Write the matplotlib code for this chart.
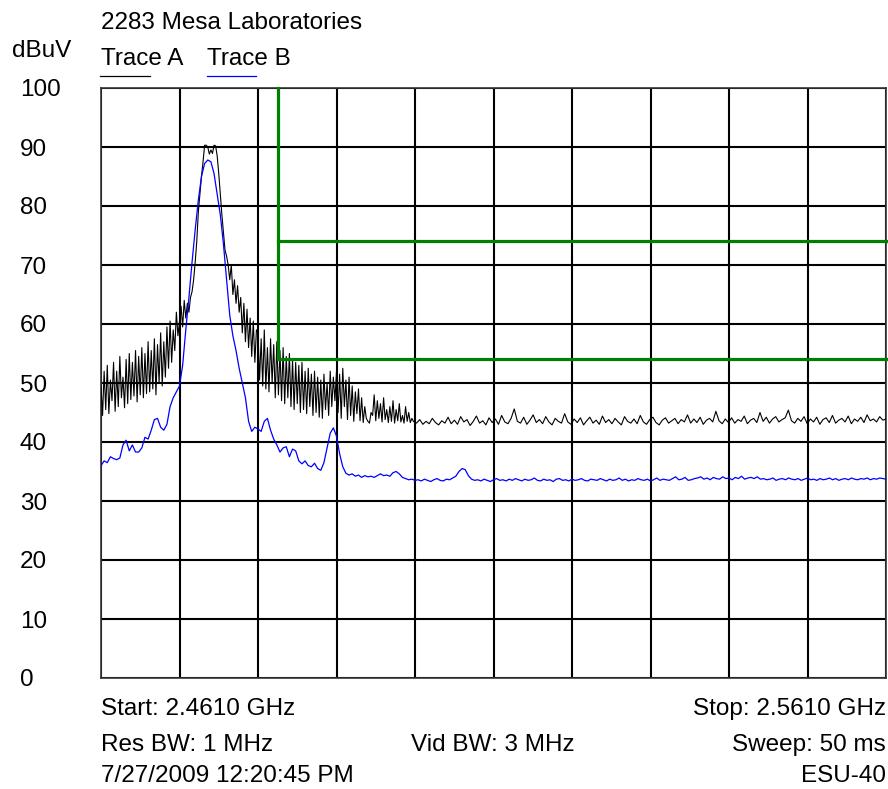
import numpy as np
import matplotlib
matplotlib.use('Agg')
import matplotlib.pyplot as plt
import matplotlib.transforms as mtransforms

plt.rcParams['font.family'] = ['Liberation Sans', 'DejaVu Sans']

start_ghz = 2.461
stop_ghz = 2.561

# Trace A (black), dBuV. Busy part read at 0.2 MHz steps, flat floor at ~0.4 MHz
trace_a_busy_start = 2.461
trace_a_busy_stop = 2.5008
trace_a_busy = [
    # 2.461 - 2.471
    49.5, 44.5, 52.0, 45.5, 53.0, 44.8, 50.5, 47.0, 53.5, 45.2,
    52.0, 46.0, 54.5, 47.5, 51.0, 45.8, 54.0, 46.5, 55.0, 47.2,
    53.5, 47.8, 55.5, 46.8, 54.5, 48.0, 56.0, 47.5, 55.0, 48.2,
    57.0, 48.5, 55.5, 49.0, 57.5, 48.0, 56.5, 50.0, 58.5, 49.5,
    57.0, 51.0, 59.5, 52.5, 60.5, 53.5, 59.0, 55.5, 62.0, 58.0,
    # 2.471 - 2.481 (carrier)
    60.5, 63.0, 59.5, 64.0, 61.0, 63.5, 62.0, 64.5, 65.5, 67.5,
    70.5, 74.0, 79.0, 82.0, 85.0, 87.5, 90.3, 90.3, 90.0, 88.8,
    89.5, 88.9, 90.3, 90.2, 88.5, 85.5, 82.0, 78.5, 75.5, 72.5,
    71.5, 70.0, 67.5, 70.0, 65.0, 67.5, 63.5, 66.5, 62.0, 64.5,
    58.5, 63.5, 57.0, 62.5, 56.0, 61.0, 54.5, 60.5, 53.5, 59.0,
    # 2.481 - 2.491
    58.5, 50.5, 57.5, 49.5, 59.0, 49.0, 56.0, 48.5, 57.5, 50.0,
    56.5, 47.5, 57.0, 48.0, 55.5, 47.0, 56.0, 46.5, 54.5, 47.5,
    55.0, 46.0, 54.0, 45.5, 53.5, 46.5, 53.0, 45.0, 53.5, 45.5,
    52.0, 44.8, 52.5, 46.0, 51.5, 44.5, 52.0, 45.0, 51.0, 44.2,
    50.5, 44.0, 51.5, 45.5, 50.0, 44.5, 52.0, 46.0, 51.0, 47.0,
    # 2.491 - 2.501
    52.0, 45.0, 51.5, 44.0, 52.5, 46.0, 50.5, 43.8, 51.0, 44.5,
    49.5, 43.5, 48.5, 44.8, 49.0, 43.6, 47.5, 43.3, 46.0, 44.0,
    43.5, 43.2, 45.0, 44.5, 48.0, 43.6, 47.0, 44.0, 46.5, 43.4,
    47.5, 43.8, 45.5, 43.3, 46.0, 43.5, 47.0, 43.2, 45.5, 43.6,
    46.5, 43.4, 44.5, 43.2, 46.0, 43.5, 45.0, 43.3, 44.0, 43.5,
]
trace_a_floor_start = 2.5012
trace_a_floor = [
    43.2, 43.8, 43.0, 43.5, 43.1, 44.0, 43.3, 42.9, 43.6, 43.2,
    44.2, 43.1, 43.7, 43.0, 44.3, 43.4, 43.8, 42.8, 43.5, 44.4,
    43.2, 43.6, 42.9, 44.1, 43.3, 43.9, 43.0, 44.5, 43.4, 43.1,
    44.0, 45.6, 43.5, 43.2, 44.2, 43.0, 43.7, 44.6, 43.3, 43.8,
    43.1, 44.3, 43.4, 42.9, 44.0, 43.5, 43.2, 44.8, 43.4, 43.0,
    43.9, 43.3, 44.1, 42.9, 43.6, 44.2, 43.2, 43.7, 43.0, 44.4,
    43.3, 43.8, 43.1, 44.0, 43.4, 42.9, 44.3, 43.5, 43.2, 43.9,
    43.1, 44.5, 43.4, 43.0, 43.8, 44.2, 43.3, 42.9, 43.7, 44.1,
    43.2, 43.6, 44.0, 43.1, 43.8, 43.4, 44.6, 43.2, 43.9, 43.3,
    44.2, 43.0, 43.7, 44.0, 43.4, 45.2, 43.6, 43.1, 43.9, 43.3,
    44.1, 43.2, 43.8, 43.5, 44.4, 43.1, 43.7, 44.0, 43.3, 45.0,
    43.5, 44.2, 43.2, 43.9, 44.3, 43.4, 43.8, 44.1, 45.4, 43.6,
    43.2, 44.0, 43.5, 44.3, 43.1, 43.9, 43.4, 44.2, 43.0, 43.8,
    44.1, 43.3, 44.5, 43.2, 43.7, 44.0, 43.4, 44.4, 43.1, 43.9,
    43.5, 44.2, 43.3, 44.6, 43.6, 43.9, 43.4, 44.3, 43.7, 43.9,
]

# Trace B (blue), dBuV, 0.4 MHz steps across the sweep
trace_b = [
    36.0, 36.8, 36.5, 37.5, 37.2, 37.0, 37.3, 39.5, 40.3, 38.5,
    39.5, 38.3, 38.3, 39.0, 40.8, 40.5, 42.0, 43.8, 44.0, 42.5,
    42.0, 43.0, 46.0, 47.5, 48.5,
    49.5, 53.0, 59.0, 64.5, 70.5, 76.0, 81.0, 85.0, 87.2, 87.8,
    87.5, 85.5, 82.0, 78.5, 73.5, 67.5, 61.5, 58.0, 55.5, 52.5,
    50.0, 47.5, 43.5, 41.8, 42.5, 42.2,
    41.8, 43.5, 44.0, 42.0, 40.5, 39.5, 38.3, 39.0, 39.2, 37.5,
    38.8, 38.5, 36.8, 36.3, 36.8, 36.0, 35.8, 36.4, 35.5, 35.2,
    36.5, 39.0, 41.5, 42.4, 41.0,
    38.0, 35.8, 34.7, 34.4, 34.6, 34.2, 34.4, 34.0, 34.3, 34.1,
    34.2, 34.0, 34.3, 34.6, 34.3, 34.4, 34.2, 34.8, 35.0, 34.6,
    34.0, 33.8, 33.6, 33.7, 33.5,
    33.6, 33.4, 33.7, 33.5, 33.3, 33.6, 33.8, 33.5, 33.4, 33.7,
    33.6, 33.9, 34.2, 35.0, 35.5, 35.3, 34.3, 33.7, 33.5, 33.6,
    33.4, 33.7, 33.5, 33.3, 33.6, 33.8, 33.5, 33.6, 33.4, 33.7,
    33.5, 33.8, 33.6, 33.4, 33.7, 33.5, 33.6, 33.9, 33.5, 33.4,
    33.7, 33.5, 33.6, 33.3, 33.7, 33.8, 33.5, 33.6, 33.4, 33.7,
    33.5, 33.6, 33.8, 33.5, 33.4, 33.7, 33.6, 33.5, 33.8, 33.6,
    33.4, 33.7, 33.5, 33.6, 33.9, 33.5, 33.7, 33.4, 33.6, 33.5,
    33.8, 33.6, 33.5, 33.7, 33.4, 33.6, 33.9, 33.5, 33.7, 33.6,
    33.5, 33.8, 34.1, 33.6, 33.7, 34.0, 33.5, 33.6, 33.8, 33.9,
    34.1, 33.7, 33.9, 33.6, 34.0, 33.8, 33.7, 34.1, 33.8, 33.9,
    33.6, 34.0, 33.8, 34.2, 33.7, 33.9, 34.0, 33.8, 34.1, 33.7,
    33.8, 33.6, 33.7, 33.9, 33.5, 33.7, 33.8, 33.6, 33.9, 33.7,
    33.6, 33.8, 33.5, 33.7, 33.9, 33.6, 33.7, 33.5, 33.8, 33.6,
    33.7, 33.9, 33.6, 33.8, 33.5, 33.7, 33.8, 33.6, 33.9, 33.7,
    33.6, 33.8, 33.7, 33.9, 33.6, 33.8, 33.7, 33.9, 33.8, 33.7,
]

# limit mask (band edge + two limit levels)
limit_edge_ghz = 2.4835
limit_levels = [74, 54]

y_ticks = list(range(0, 101, 10))

footer_left = ['Start: 2.4610 GHz', 'Res BW: 1 MHz', '7/27/2009 12:20:45 PM']
footer_mid = ['', 'Vid BW: 3 MHz', '']
footer_right = ['Stop: 2.5610 GHz', 'Sweep: 50 ms', 'ESU-40']

W, H = 888, 789
fig = plt.figure(figsize=(W / 100, H / 100), dpi=100)
x0, x1, y0, y1 = 101, 886, 88, 678
ax = fig.add_axes([x0 / W, 1 - y1 / H, (x1 - x0) / W, (y1 - y0) / H])

freq_a = np.concatenate([
    np.linspace(trace_a_busy_start, trace_a_busy_stop, len(trace_a_busy)),
    np.linspace(trace_a_floor_start, stop_ghz, len(trace_a_floor)),
])
vals_a = trace_a_busy + trace_a_floor
freq_b = np.linspace(start_ghz, stop_ghz, len(trace_b))

ax.set_xlim(start_ghz, stop_ghz)
ax.set_ylim(0, 100)
ax.set_xticks(np.linspace(start_ghz, stop_ghz, 11))
ax.set_yticks(y_ticks)
ax.grid(True, color='black', linewidth=1.5)
ax.set_axisbelow(True)
ax.tick_params(length=0, labelleft=False, labelbottom=False)
for s in ax.spines.values():
    s.set_linewidth(1.2)
    s.set_color('#333333')

ax.plot(freq_a, vals_a, color='black', linewidth=0.8, zorder=3)
ax.plot(freq_b, trace_b, color='#0000ff', linewidth=0.9, zorder=3)

green = '#008000'
ax.plot([limit_edge_ghz, limit_edge_ghz], [min(limit_levels), 100], color=green, linewidth=2.3, zorder=4, clip_on=False)
for lvl in limit_levels:
    ax.plot([limit_edge_ghz, stop_ghz], [lvl, lvl], color=green, linewidth=2.3, zorder=4, clip_on=False)

fs = 17.5
# tick labels sit a couple of pixels low in the original
tick_shift = mtransforms.ScaledTranslation(0, -2.5 / 100, fig.dpi_scale_trans)
trans = mtransforms.blended_transform_factory(fig.transFigure, ax.transData) + tick_shift
for v in y_ticks:
    ax.text(20 / W, v, str(v), transform=trans, ha='left', va='center', fontsize=fs)


def put(x, y, s, **kw):
    fig.text(x / W, 1 - y / H, s, va='center', fontsize=fs, **kw)


put(12, 51, 'dBuV', ha='left')
put(x0, 23, '2283 Mesa Laboratories', ha='left')
put(x0, 59, 'Trace A', ha='left')
put(207, 59, 'Trace B', ha='left')
fig.add_artist(plt.Line2D([100 / W, 150 / W], [1 - 76 / H, 1 - 76 / H], color='black', linewidth=0.9))
fig.add_artist(plt.Line2D([207 / W, 256 / W], [1 - 76 / H, 1 - 76 / H], color='#0000ff', linewidth=0.9))

rows_y = [709, 745, 776]
for i, yy in enumerate(rows_y):
    put(x0, yy, footer_left[i], ha='left')
    if footer_mid[i]:
        put(493, yy, footer_mid[i], ha='center')
    put(x1, yy, footer_right[i], ha='right')

fig.savefig('out.png', dpi=100)
